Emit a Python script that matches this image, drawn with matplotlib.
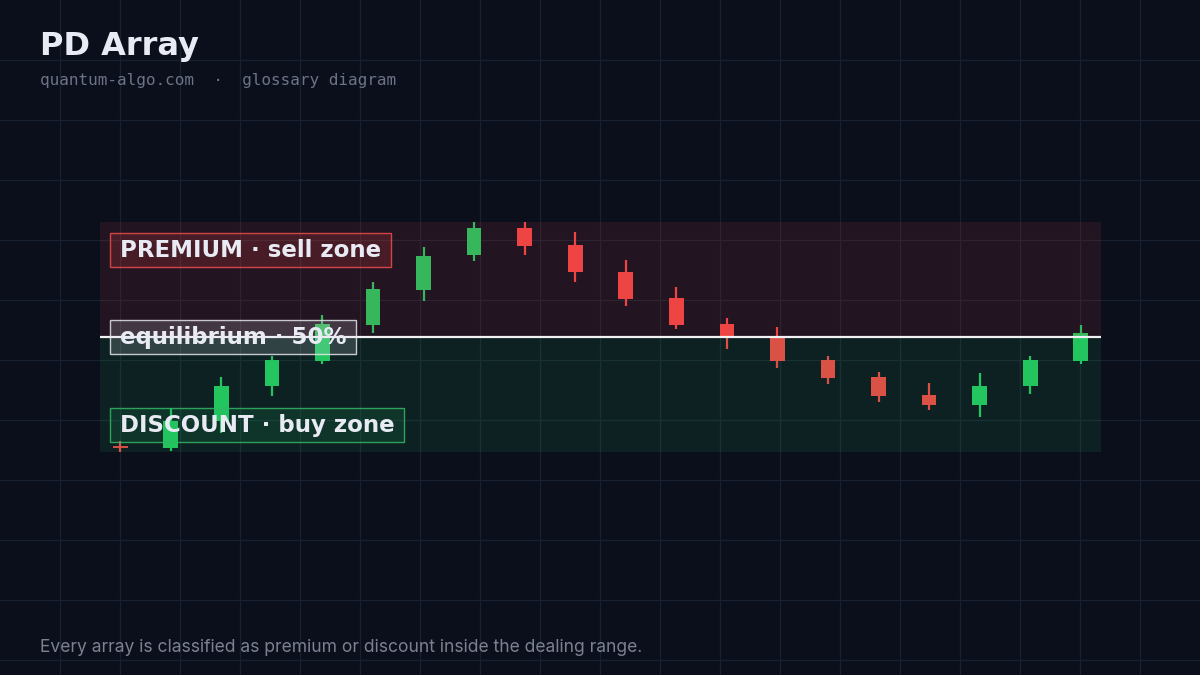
import matplotlib
matplotlib.use("Agg")
import matplotlib.pyplot as plt
from matplotlib.patches import Rectangle
import numpy as np

# ---- data (prices) ----
opens  = [100.60, 100.40, 103.05, 106.60, 109.10, 112.70, 116.20, 119.70, 122.40, 120.65,
          118.00, 115.40, 112.80, 111.40, 109.20, 107.50, 105.70, 104.70, 106.55, 109.10]
closes = [100.45, 103.05, 106.60, 109.20, 112.80, 116.30, 119.60, 122.40, 120.60, 117.95,
          115.30, 112.70, 111.45, 109.10, 107.40, 105.60, 104.70, 106.60, 109.20, 111.90]
highs  = [101.10, 104.40, 107.50, 109.60, 113.70, 117.00, 120.50, 123.00, 123.00, 122.00,
          119.20, 116.50, 113.40, 112.50, 109.60, 108.00, 106.90, 107.90, 109.60, 112.70]
lows   = [100.00, 100.05, 101.90, 105.60, 108.80, 111.90, 115.10, 119.10, 119.70, 117.00,
          114.60, 112.30, 110.30, 108.40, 106.80, 105.00, 104.20, 103.50, 105.80, 108.80]

title = "PD Array"
subtitle = "quantum-algo.com  ·  glossary diagram"
footer = "Every array is classified as premium or discount inside the dealing range."
label_premium = "PREMIUM · sell zone"
label_eq = "equilibrium · 50%"
label_discount = "DISCOUNT · buy zone"

# ---- style ----
BG = "#0b0f1c"
GRID = "#192031"
GREEN = "#22c55e"
RED = "#ef4444"
TEXT = "#e8eaf4"

W, H = 1200, 675
fig = plt.figure(figsize=(12, 6.75), dpi=100, facecolor=BG)

# background grid layer
bg = fig.add_axes([0, 0, 1, 1])
bg.set_xlim(0, W)
bg.set_ylim(H, 0)
bg.axis("off")
bg.set_facecolor(BG)
for gx in range(60, W, 60):
    bg.axvline(gx, color=GRID, lw=0.9, zorder=0)
for gy in range(60, H, 60):
    bg.axhline(gy, color=GRID, lw=0.9, zorder=0)

# chart axes (dealing range)
left_px, right_px, top_px, bot_px = 100, 1101, 222, 452
ax = fig.add_axes([left_px / W, 1 - bot_px / H, (right_px - left_px) / W, (bot_px - top_px) / H])
ax.set_facecolor("none")
ax.axis("off")

n = len(opens)
x = np.arange(n)
lo = min(lows)
hi = max(highs)
mid = (lo + hi) / 2
ax.set_xlim(-0.4, n - 1 + 0.4)
ax.set_ylim(lo, hi)

body_w = 0.29
for i in range(n):
    o, c, h, l = opens[i], closes[i], highs[i], lows[i]
    col = GREEN if c >= o else RED
    ax.vlines(x[i], l, h, color=col, lw=1.6, zorder=2)
    bh = abs(c - o)
    if bh < 0.15:
        ax.hlines((o + c) / 2, x[i] - body_w / 2, x[i] + body_w / 2, color=col, lw=1.4, zorder=2)
    else:
        ax.bar(x[i], bh, bottom=min(o, c), width=body_w, color=col, zorder=2, linewidth=0)

# zones overlay
ax.axhspan(mid, hi, color=RED, alpha=0.10, lw=0, zorder=3)
ax.axhspan(lo, mid, color=GREEN, alpha=0.10, lw=0, zorder=3)
ax.axhline(mid, color="#f2f2f5", lw=1.6, zorder=4)

# labels with hand-sized boxes
lab_font = dict(family="DejaVu Sans", weight="bold", fontsize=16.5, color=TEXT)
labels = [
    (label_premium, 0.885, (0.94, 0.27, 0.27, 0.18), (0.94, 0.3, 0.3, 0.85)),
    (label_eq, 0.507, (0.85, 0.85, 0.9, 0.18), (0.9, 0.9, 0.92, 0.85)),
    (label_discount, 0.125, (0.13, 0.77, 0.37, 0.12), (0.2, 0.72, 0.4, 0.85)),
]
texts = []
for s, yf, fc, ec in labels:
    t = ax.text(0.0195, yf, s, transform=ax.transAxes, va="center_baseline", ha="left",
                zorder=6, **lab_font)
    texts.append((t, fc, ec))

fig.canvas.draw()
r = fig.canvas.get_renderer()
for t, fc, ec in texts:
    bb = t.get_window_extent(renderer=r)
    # box: 10 px horizontal padding, 34 px tall centred on the text
    x0 = bb.x0 - 10
    x1 = bb.x1 + 10
    yc = bb.y0 + (bb.y1 - bb.y0) * 0.5 + 1
    rect = Rectangle((x0 / W, (yc - 17) / H), (x1 - x0) / W, 34 / H, transform=fig.transFigure,
                     fc=fc, ec=ec, lw=1.0, zorder=5)
    ax.add_artist(rect)
    rect.set_clip_on(False)

# titles
fig.text(40 / W, 1 - 46 / H, title, fontsize=23, weight="bold", family="DejaVu Sans",
         color=TEXT, va="center", ha="left")
fig.text(40 / W, 1 - 81 / H, subtitle, fontsize=11.5, family="DejaVu Sans Mono",
         color="#6b7386", va="center", ha="left")
fig.text(40 / W, 1 - 647 / H, footer, fontsize=12.6, family="Inter",
         color="#7b8192", va="center", ha="left")

fig.savefig("out.png", dpi=100, facecolor=BG)
